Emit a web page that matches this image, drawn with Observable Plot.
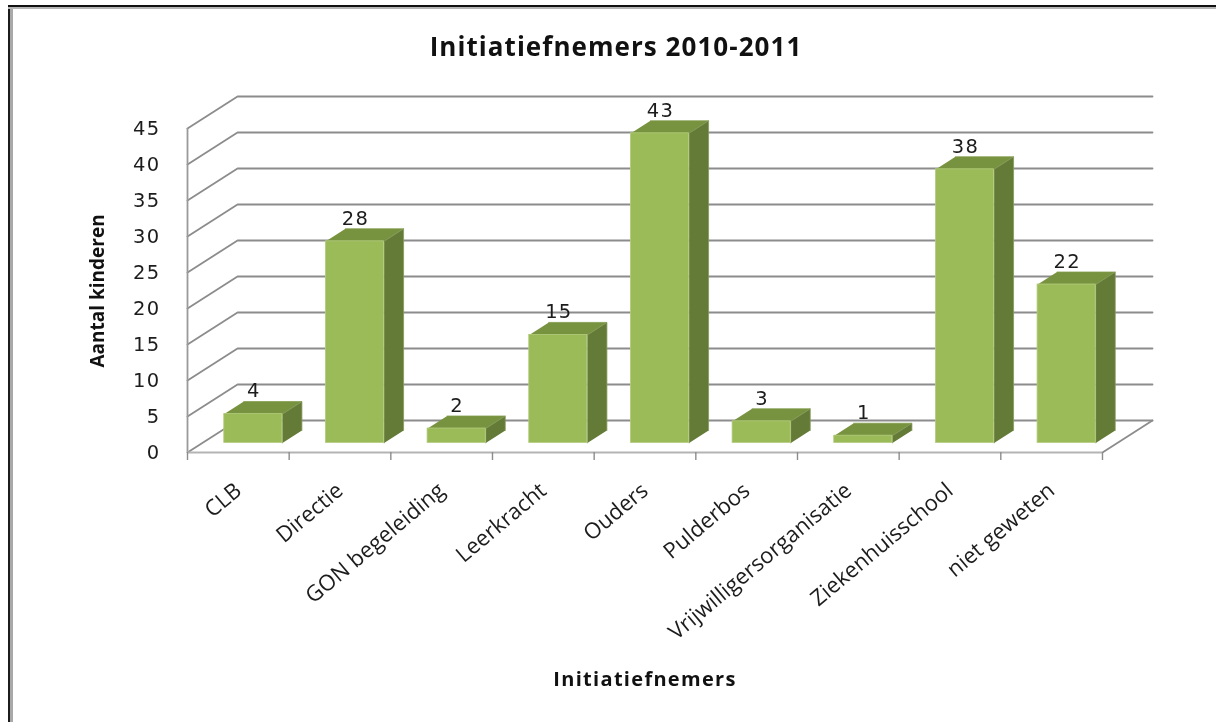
<!DOCTYPE html>
<html>
<head>
<meta charset="utf-8">
<script src="https://cdn.jsdelivr.net/npm/d3@7"></script>
<script src="https://cdn.jsdelivr.net/npm/@observablehq/plot@0.6"></script>
<style>
html,body{margin:0;padding:0;background:#fff;overflow:hidden}
#page{position:relative;width:1216px;height:722px}
#edgeLeft{position:absolute;left:8px;top:6px;bottom:0;width:2px;background:#1c1c1c;border-right:3px solid #a9a9a9}
#edgeTop{position:absolute;left:8px;top:5px;right:0;height:2px;background:#111;border-bottom:2px solid #b5b5b5}
#chart{position:absolute;left:0;top:0}
#chart svg{display:block;overflow:visible;background:transparent;filter:blur(0.45px)}
#chart g[aria-label="y-axis tick label"] text{letter-spacing:1.3px}
#chart .values text{letter-spacing:1.3px}
#chart .chartTitle text{letter-spacing:1.05px}
#chart .xTitle text{letter-spacing:1.3px}
</style>
</head>
<body>
<div id="page"><div id="chart"></div><div id="edgeLeft"></div><div id="edgeTop"></div></div>
<script>
const categories = ["CLB","Directie","GON begeleiding","Leerkracht","Ouders","Pulderbos","Vrijwilligersorganisatie","Ziekenhuisschool","niet geweten"];
const counts = [4,28,2,15,43,3,1,38,22];
const yTicks = [0,5,10,15,20,25,30,35,40,45];

// oblique projection of the 3D box, in scale units
const depthX = 0.492, depthY = 4.444;
const barDepthStart = 0.3, barDepthEnd = 0.69, halfBar = 0.286;
const xEdges = d3.range(categories.length + 1);
const nCat = categories.length;

const at = (x, v, d) => ({x: x + d * depthX, y: v + d * depthY});
const rows = counts.map((v, i) => ({cat: categories[i], v, c: i + 0.5, id: i}));

const grid = yTicks.flatMap(v => [at(0, v, 0), at(0, v, 1), at(nCat, v, 1)].map(p => ({...p, id: v})));
const floorEdge = [at(nCat, 0, 0), at(nCat, 0, 1)];

const topFaces = rows.flatMap(r => [
  at(r.c - halfBar, r.v, barDepthStart), at(r.c + halfBar, r.v, barDepthStart),
  at(r.c + halfBar, r.v, barDepthEnd), at(r.c - halfBar, r.v, barDepthEnd)
].map(p => ({...p, id: r.id})));
const sideFaces = rows.flatMap(r => [
  at(r.c + halfBar, 0, barDepthStart), at(r.c + halfBar, r.v, barDepthStart),
  at(r.c + halfBar, r.v, barDepthEnd), at(r.c + halfBar, 0, barDepthEnd)
].map(p => ({...p, id: r.id})));

const lift = barDepthStart * depthY, shift = barDepthStart * depthX;
const font = "'Open Sans', sans-serif";
const digitFont = "'DejaVu Sans', sans-serif";

const plot = Plot.plot({
  width: 1216, height: 722,
  marginLeft: 187, marginRight: 64, marginTop: 96, marginBottom: 270,
  style: {background: "transparent", fontFamily: font},
  x: {domain: [0, nCat + depthX], axis: null},
  y: {domain: [0, 45 + depthY], axis: null},
  marks: [
    Plot.line(grid, {x: "x", y: "y", z: "id", stroke: "#8c8c8c", strokeWidth: 1.8}),
    Plot.line(floorEdge, {x: "x", y: "y", stroke: "#8c8c8c", strokeWidth: 1.8}),
    Plot.ruleX([0], {y1: 0, y2: 45, stroke: "#9a9a9a", strokeWidth: 1.8}),
    Plot.ruleY([0], {x1: 0, x2: nCat, stroke: "#b4b4b4", strokeWidth: 1.8}),
    Plot.axisX({ticks: xEdges, tickSize: 8, tickFormat: () => "", stroke: "#8c8c8c", strokeWidth: 1.4, label: null}),
    Plot.axisY({ticks: yTicks, tickSize: 0, tickPadding: 27, fontSize: 19.5, fill: "#1c1c1c", label: null, fontFamily: digitFont}),
    Plot.line(topFaces, {x: "x", y: "y", z: "id", fill: "#78933f", stroke: "#7f9a49", strokeWidth: 0.8}),
    Plot.line(sideFaces, {x: "x", y: "y", z: "id", fill: "#647a37", stroke: "#869c5c", strokeWidth: 0.8}),
    Plot.rect(rows, {
      x1: d => d.c - halfBar + shift, x2: d => d.c + halfBar + shift,
      y1: lift, y2: d => d.v + lift,
      fill: "#9bbb59", stroke: "#b4cc7e", strokeWidth: 0.8
    }),
    Plot.text(rows, {
      x: d => d.c + shift, y: d => d.v + lift, text: d => String(d.v), dx: 0.5, dy: -23,
      fontSize: 19.5, fill: "#1c1c1c", fontFamily: digitFont, className: "values"
    }),
    Plot.text(rows, {
      x: "c", y: 0, text: "cat", textAnchor: "end", rotate: -40, dx: 0, dy: 35,
      fontSize: 22, fill: "#1c1c1c", fontFamily: font
    }),
    Plot.text(["Initiatiefnemers 2010-2011"], {
      frameAnchor: "top", text: d => d, dx: -54, dy: -59,
      fontSize: 26, fontWeight: "bold", fill: "#111", fontFamily: font, className: "chartTitle"
    }),
    Plot.text(["Initiatiefnemers"], {
      frameAnchor: "bottom", text: d => d, dx: -25, dy: 233,
      fontSize: 20, fontWeight: "bold", fill: "#111", fontFamily: font, className: "xTitle"
    }),
    Plot.text(["Aantal kinderen"], {
      frameAnchor: "left", text: d => d, rotate: -90, dx: -90, dy: 93,
      fontSize: 19, fontWeight: "bold", fill: "#111", fontFamily: font
    })
  ]
});
document.getElementById("chart").append(plot);
</script>
</body>
</html>
